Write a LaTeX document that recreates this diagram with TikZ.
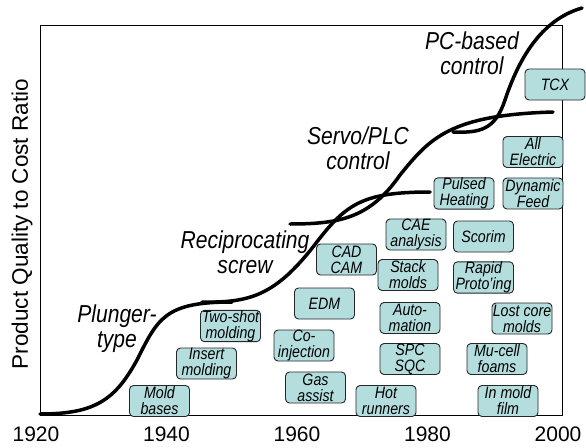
\documentclass[tikz,border=0pt]{standalone}
\usepackage{fontspec}
\setmainfont{Liberation Sans}
\newfontfamily\narrowsans[FakeStretch=0.86]{Liberation Sans}
\definecolor{boxfill}{RGB}{180,222,222}

\begin{document}
\begin{tikzpicture}[x=1pt, y=-1pt,
    item/.style = {draw=black!85, fill=boxfill, line width=0.9pt, rounded corners=4pt, minimum width=60pt, minimum height=31pt, inner sep=0pt, align=center, font=\narrowsans\itshape\fontsize{16.5}{16}\selectfont},
    era/.style = {align=center, font=\narrowsans\itshape\fontsize{24.5}{25}\selectfont},
    year/.style = {font=\fontsize{21}{24}\selectfont},
    trend/.style = {line width=3.5pt, line cap=round}]
    \useasboundingbox (0,0) rectangle (586,447);
    \draw[line width=0.8pt] (40,25) rectangle (562,415);
    % axis texts
    \node[rotate=90, font=\fontsize{22.5}{26}\selectfont] (ylabel) at (22,224) {Product Quality to Cost Ratio};
    \foreach \yr [count=\i from 0] in {1920,1940,1960,1980,2000}
        \node[year] (y\yr) at (36+130.5*\i, 434) {\yr};
    % technologies
    \node[item] (mold) at (159.5,401) {Mold\\bases};
    \node[item] (insert) at (206.5,363.5) {Insert\\molding};
    \node[item] (twoshot) at (230.5,326) {Two-shot\\molding};
    \node[item] (coinj) at (304,345.5) {Co-\\injection};
    \node[item] (gas) at (315.5,387.5) {Gas\\assist};
    \node[item] (edm) at (324.5,303.5) {EDM};
    \node[item] (cadcam) at (346.5,259.5) {CAD\\CAM};
    \node[item] (hot) at (386,401) {Hot\\runners};
    \node[item] (spc) at (410,359) {SPC\\SQC};
    \node[item] (auto) at (410,318) {Auto-\\mation};
    \node[item] (stack) at (408,275) {Stack\\molds};
    \node[item] (cae) at (416,234.5) {CAE\\analysis};
    \node[item] (scorim) at (483.5,236.5) {Scorim};
    \node[item] (rapid) at (483.5,277.5) {Rapid\\Proto’ing};
    \node[item] (lostcore) at (522,318.5) {Lost core\\molds};
    \node[item] (mucell) at (497,359) {Mu-cell\\foams};
    \node[item] (inmold) at (508,401) {In mold\\film};
    \node[item] (pulsed) at (464,193.5) {Pulsed\\Heating};
    \node[item] (dynfeed) at (533,193.5) {Dynamic\\Feed};
    \node[item] (allel) at (533,152) {All\\Electric};
    \node[item] (tcx) at (555,84.5) {TCX};
    % machine generations
    \node[era] (plunger) at (117,329) {Plunger-\\type};
    \node[era] (recip) at (245,252) {Reciprocating\\screw};
    \node[era] (servo) at (358,148.5) {Servo/PLC\\control};
    \node[era] (pcbased) at (472,53.5) {PC-based\\control};
    \draw[trend] (40,414) .. controls (95,414) and (115,400) .. (137,360)
        .. controls (158,318) and (165,302) .. (232,302);
    \draw[trend] (202,302) .. controls (250,303) and (275,295) .. (313,247)
        .. controls (345,205) and (360,192) .. (430,192);
    \draw[trend] (290,224) .. controls (340,224) and (370,218) .. (400,175)
        .. controls (430,138) and (450,115) .. (553,112);
    \draw[trend] (453,132) .. controls (480,133) and (495,130) .. (505,100)
        .. controls (518,61) and (540,20) .. (582,8);
\end{tikzpicture}
\end{document}
